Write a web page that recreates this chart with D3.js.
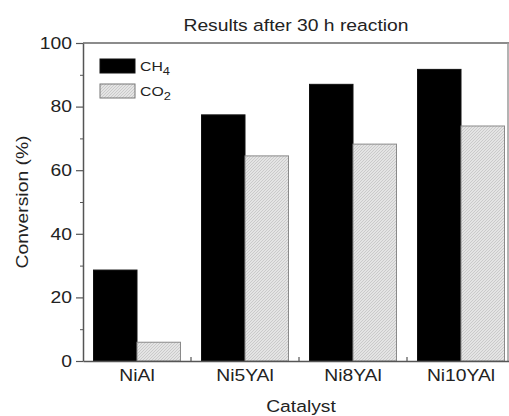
<!DOCTYPE html>
<html><head><meta charset="utf-8">
<script src="https://cdn.jsdelivr.net/npm/d3@7"></script>
<style>
html,body{margin:0;padding:0;background:#fff;}
svg{display:block;font-family:"Liberation Sans",Arial,sans-serif;}
</style></head>
<body>
<svg id="chart" width="509" height="416"></svg>
<script>
const categories = ["NiAl","Ni5YAl","Ni8YAl","Ni10YAl"];
const seriesNames = ["CH4","CO2"];
const ch4Values = [28.6, 77.4, 87.0, 91.7];
const co2Values = [5.9, 64.5, 68.2, 73.9];
const yTicks = [0,20,40,60,80,100];
const yMinorTicks = [10,30,50,70,90];

(function(){
const svg = d3.select("#chart");
const W = 509, H = 416;
const mLeft = 83, mTop = 43, mBottom = 361, frameRight = 508;
const SX = 1.17; // horizontal stretch of text as in the reference

const defs = svg.append("defs");
const pat = defs.append("pattern").attr("id","hatch").attr("patternUnits","userSpaceOnUse")
  .attr("width",3).attr("height",3);
pat.append("rect").attr("width",3).attr("height",3).attr("fill","#e4e4e4");
pat.append("path").attr("d","M0,3 L3,0 M-1,1 L1,-1 M2,4 L4,2").attr("stroke","#c4c4c4").attr("stroke-width",0.8);

const x = d3.scaleBand().domain(categories).range([mLeft, mLeft + 4*108]).paddingInner(0).paddingOuter(0);
const x1 = d3.scaleBand().domain(seriesNames).range([0, x.bandwidth()]).paddingInner(0).paddingOuter(21/87);
const y = d3.scaleLinear().domain([0,100]).range([mBottom, mTop]);

const data = categories.map((c,i)=>({cat:c, vals:[{s:"CH4",v:ch4Values[i]},{s:"CO2",v:co2Values[i]}]}));

const g = svg.append("g");
g.selectAll("g.cat").data(data).join("g").attr("class","cat")
  .attr("transform", d=>`translate(${x(d.cat)},0)`)
  .selectAll("rect").data(d=>d.vals).join("rect")
  .attr("x", d=>x1(d.s)).attr("width", x1.bandwidth())
  .attr("y", d=>y(d.v)).attr("height", d=>y(0)-y(d.v))
  .attr("fill", d=>d.s==="CH4" ? "#000" : "url(#hatch)")
  .attr("stroke", d=>d.s==="CH4" ? "#111" : "#8a8a8a")
  .attr("stroke-width", 1);

// frame
svg.append("line").attr("x1",mLeft).attr("x2",W).attr("y1",mTop).attr("y2",mTop)
  .attr("stroke","#8c8c8c").attr("stroke-width",2);
svg.append("line").attr("x1",frameRight).attr("x2",frameRight).attr("y1",mTop).attr("y2",mBottom)
  .attr("stroke","#9a9a9a").attr("stroke-width",1.5);

// y axis
const yAxis = svg.append("g").attr("transform",`translate(${mLeft},0)`)
  .call(d3.axisLeft(y).tickValues(yTicks).tickSize(7).tickPadding(4).tickSizeOuter(0));
yAxis.select(".domain").attr("stroke","#555").attr("stroke-width",1.5);
yAxis.selectAll(".tick line").attr("stroke","#555").attr("stroke-width",1.2);
yAxis.selectAll(".tick text").attr("font-size",16.5).attr("fill","#222")
  .attr("font-family","'Liberation Sans',Arial,sans-serif")
  .attr("transform",`scale(${SX},1)`).attr("x",-11/SX);
svg.append("g").attr("transform",`translate(${mLeft},0)`)
  .call(d3.axisLeft(y).tickValues(yMinorTicks).tickSize(3).tickFormat(""))
  .call(s=>s.select(".domain").remove())
  .selectAll(".tick line").attr("stroke","#555");

// x axis
const xAxis = svg.append("g").attr("transform",`translate(0,${mBottom})`)
  .call(d3.axisBottom(x).tickSize(0).tickPadding(8).tickSizeOuter(0));
xAxis.select(".domain").attr("stroke","#555").attr("stroke-width",1.5);
xAxis.selectAll(".tick text").attr("font-size",16.5).attr("fill","#222")
  .attr("font-family","'Liberation Sans',Arial,sans-serif")
  .attr("transform",`scale(${SX},1)`);
// boundary ticks (inward)
const bounds = categories.slice(1).map(c=>x(c));
svg.append("g").selectAll("line").data(bounds).join("line")
  .attr("x1",d=>d).attr("x2",d=>d).attr("y1",mBottom).attr("y2",mBottom-4)
  .attr("stroke","#555").attr("stroke-width",1.2);

// title
svg.append("text").attr("transform",`translate(${(mLeft+W)/2},31) scale(${SX},1)`)
  .attr("text-anchor","middle").attr("font-size",16.5).attr("fill","#222")
  .text("Results after 30 h reaction");
// axis titles
svg.append("text").attr("transform",`translate(${(mLeft+W)/2+5},412) scale(${SX},1)`)
  .attr("text-anchor","middle").attr("font-size",16.5).attr("fill","#222").text("Catalyst");
svg.append("text").attr("transform",`translate(28,${(mTop+mBottom)/2}) rotate(-90) scale(${SX},1)`)
  .attr("text-anchor","middle").attr("font-size",16.5).attr("fill","#222").text("Conversion (%)");

// legend
const leg = svg.append("g").attr("transform","translate(100,59)");
const legItems = [{s:"CH4",base:"CH",sub:"4"},{s:"CO2",base:"CO",sub:"2"}];
const li = leg.selectAll("g").data(legItems).join("g").attr("transform",(d,i)=>`translate(0,${i*25})`);
li.append("rect").attr("width",35).attr("height",14)
  .attr("fill",d=>d.s==="CH4"?"#000":"url(#hatch)")
  .attr("stroke",d=>d.s==="CH4"?"#111":"#777");
const lt = li.append("text").attr("transform",`translate(40,12) scale(${SX},1)`)
  .attr("font-size",13.5).attr("fill","#222");
lt.append("tspan").text(d=>d.base);
lt.append("tspan").attr("dy",4).attr("font-size",11).text(d=>d.sub);
})();
</script>
</body></html>
